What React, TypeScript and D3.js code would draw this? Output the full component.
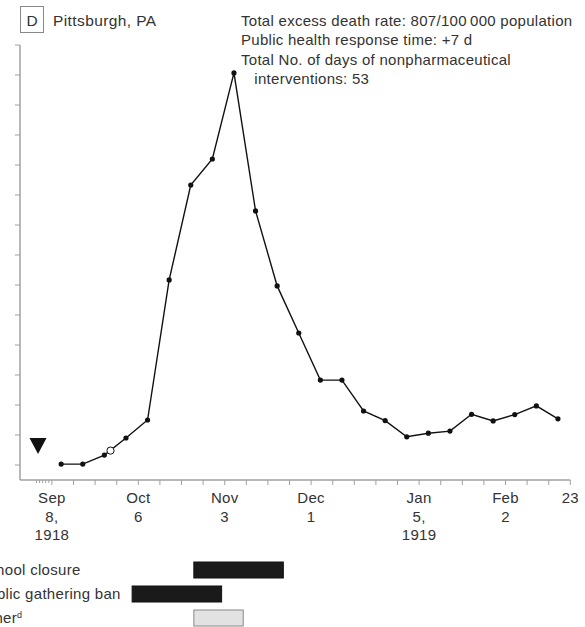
import React from "react";
import * as d3 from "d3";

const weekDates = [
  "1918-09-11", "1918-09-18", "1918-09-25", "1918-10-02", "1918-10-09", "1918-10-16",
  "1918-10-23", "1918-10-30", "1918-11-06", "1918-11-13", "1918-11-20", "1918-11-27",
  "1918-12-04", "1918-12-11", "1918-12-18", "1918-12-25", "1919-01-01", "1919-01-08",
  "1919-01-15", "1919-01-22", "1919-01-29", "1919-02-05", "1919-02-12", "1919-02-19",
];
const excessDeathRate = [
  0.3, 0.3, 3.3, 9, 15, 61.7, 93.3, 102, 130.7, 84.7, 59.7, 44,
  28.3, 28.3, 18, 14.8, 9.4, 10.6, 11.3, 16.9, 14.7, 16.8, 19.7, 15.4,
];
const openMarker = { date: "1918-09-27", value: 4.8 };
const triangleMarker = { date: "1918-09-03T12:00:00Z", value: 3.7 };

const tickLabels = [
  { date: "1918-09-08", lines: ["Sep", "8,", "1918"] },
  { date: "1918-10-06", lines: ["Oct", "6"] },
  { date: "1918-11-03", lines: ["Nov", "3"] },
  { date: "1918-12-01", lines: ["Dec", "1"] },
  { date: "1919-01-05", lines: ["Jan", "5,", "1919"] },
  { date: "1919-02-02", lines: ["Feb", "2"] },
  { date: "1919-02-23", lines: ["23"] },
];
const yTicks = d3.range(0, 141, 10);

const interventionNames = ["School closure", "Public gathering ban", "Other"];
const interventionStart = ["1918-10-24", "1918-10-04", "1918-10-24"];
const interventionEnd = ["1918-11-22", "1918-11-02", "1918-11-09"];
const interventionFill = ["#1a1a1a", "#1a1a1a", "#e2e2e2"];

const infoLines = [
  "Total excess death rate: 807/100\u2009000 population",
  "Public health response time: +7 d",
  "Total No. of days of nonpharmaceutical",
  "   interventions: 53",
];

const parse = (s: string) => new Date(s + (s.length === 10 ? "T00:00:00Z" : ""));

export default function App() {
  const W = 585, H = 627;
  const x = d3.scaleUtc().domain([parse("1918-09-08"), parse("1919-02-23")]).range([51.9, 570.3]);
  const y = d3.scaleLinear().domain([0, 140]).range([465, 45]);
  const axisX = 20, axisY = 480;
  const font = "'Liberation Sans', Arial, Helvetica, sans-serif";
  const textCol = "#333";
  const axisCol = "#a0a0a0";

  const pts = weekDates.map((d, i) => ({ d: parse(d), v: excessDeathRate[i] }));
  const line = d3.line<{ d: Date; v: number }>().x((p) => x(p.d)).y((p) => y(p.v));

  const weekly = d3.utcSunday.range(parse("1918-09-08"), parse("1919-02-24"));
  const daily = d3.utcDay.range(parse("1918-09-03"), parse("1918-09-08"));

  const tx = x(parse(triangleMarker.date));
  const ty = y(triangleMarker.value);

  return (
    <svg width={W} height={H} style={{ position: "absolute", left: 0, top: 0 }} fontFamily={font}>
      <rect x={0} y={0} width={W} height={H} fill="#fff" />
      {/* header */}
      <rect x={20.5} y={6.5} width={23} height={26} fill="none" stroke="#888" strokeWidth={1} />
      <text x={32} y={26} textAnchor="middle" fontSize={15.5} fill={textCol}>D</text>
      <text x={53} y={26} fontSize={15.5} letterSpacing={0.4} fill={textCol}>Pittsburgh, PA</text>
      {infoLines.map((t, i) => (
        <text key={i} x={241} y={26 + i * 19.4} fontSize={15} letterSpacing={0.28} fill={textCol} style={{ whiteSpace: "pre" }}>
          {t}
        </text>
      ))}

      {/* y axis */}
      <line x1={axisX} x2={axisX} y1={45} y2={axisY} stroke={axisCol} strokeWidth={1.5} />
      {yTicks.map((t) => (
        <line key={t} x1={axisX - 5} x2={axisX} y1={y(t)} y2={y(t)} stroke={axisCol} strokeWidth={1} />
      ))}
      {/* x axis */}
      <line x1={axisX} x2={x(parse("1919-02-23"))} y1={axisY} y2={axisY} stroke={axisCol} strokeWidth={1.5} />
      {weekly.map((d, i) => (
        <line key={i} x1={x(d)} x2={x(d)} y1={axisY} y2={axisY + 5} stroke={axisCol} strokeWidth={1} />
      ))}
      {daily.map((d, i) => (
        <line key={"d" + i} x1={x(d)} x2={x(d)} y1={axisY} y2={axisY + 3} stroke={axisCol} strokeWidth={1} />
      ))}
      {tickLabels.map((t, i) => (
        <text key={i} x={x(parse(t.date))} textAnchor="middle" fontSize={15} letterSpacing={0.3} fill={textCol}>
          {t.lines.map((l, j) => (
            <tspan key={j} x={x(parse(t.date))} y={503 + j * 18.7}>{l}</tspan>
          ))}
        </text>
      ))}

      {/* triangle */}
      <path d={`M${tx - 8.5},${ty - 16} L${tx + 8.5},${ty - 16} L${tx},${ty} Z`} fill="#111" />

      {/* series */}
      <path d={line(pts) || ""} fill="none" stroke="#111" strokeWidth={1.4} />
      {pts.map((p, i) => (
        <circle key={i} cx={x(p.d)} cy={y(p.v)} r={2.6} fill="#111" />
      ))}
      <circle cx={x(parse(openMarker.date))} cy={y(openMarker.value)} r={3.6} fill="#fff" stroke="#111" strokeWidth={1} />

      {/* interventions */}
      {interventionNames.map((n, i) => {
        const x0 = x(parse(interventionStart[i]));
        const x1 = x(parse(interventionEnd[i]));
        const cy = 570 + i * 24;
        return (
          <g key={n}>
            <text x={-22} y={cy + 5} fontSize={15} letterSpacing={0.3} fill={textCol}>
              {n}
              {i === 2 ? <tspan dy={-5} fontSize={9}>d</tspan> : null}
            </text>
            <rect x={x0} y={cy - 8} width={x1 - x0} height={16} fill={interventionFill[i]}
              stroke={i === 2 ? "#888" : "#111"} strokeWidth={1} />
          </g>
        );
      })}
    </svg>
  );
}
